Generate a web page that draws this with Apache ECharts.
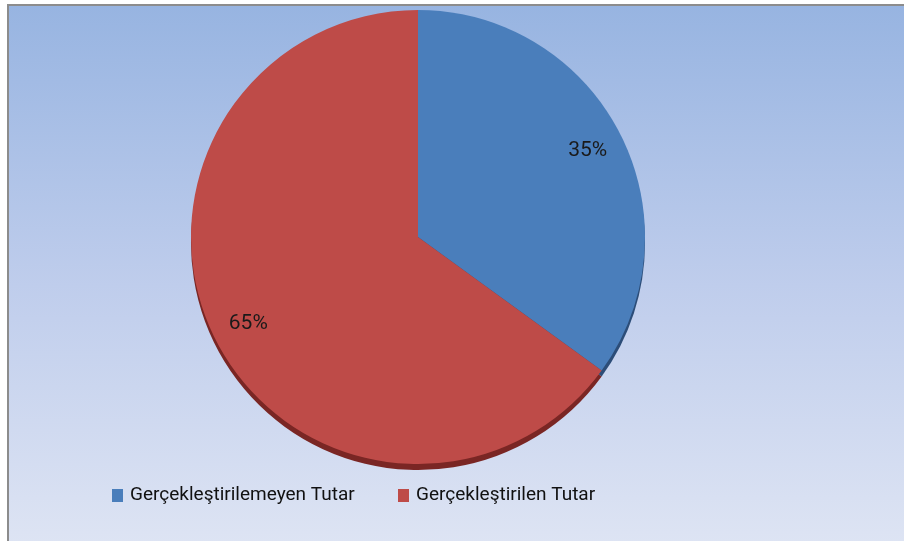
<!DOCTYPE html>
<html><head><meta charset="utf-8">
<script src="https://cdn.jsdelivr.net/npm/echarts@6/dist/echarts.min.js"></script>
<style>html,body{margin:0;padding:0;background:#fff}#c{width:904px;height:541px}</style>
</head><body><div id="c"></div>
<script>
const categories = ['Gerçekleştirilemeyen Tutar', 'Gerçekleştirilen Tutar'];
const values = [35, 65];
const faceColors = ['#4A7EBB', '#BE4B48'];
const edgeColors = ['#2C4D78', '#7A2624'];
const FONT = 'Roboto';

const chart = echarts.init(document.getElementById('c'));
const data = categories.map((n, i) => ({ name: n, value: values[i] }));
const legendBase = {
  top: 481, itemWidth: 11, itemHeight: 13, itemGap: 0, icon: 'rect',
  textStyle: { fontFamily: FONT, fontSize: 19, color: '#111', padding: [0, 0, 0, 2] }
};
chart.setOption({
  animation: false,
  graphic: [{
    type: 'rect', z: -10, silent: true,
    shape: { x: 8, y: 5, width: 910, height: 560 },
    style: {
      fill: new echarts.graphic.LinearGradient(0, 0, 0, 1, [
        { offset: 0, color: '#97B4E1' },
        { offset: 0.5, color: '#BFCDEC' },
        { offset: 1, color: '#E0E6F4' }
      ]),
      stroke: '#8C8C8C', lineWidth: 2
    }
  }],
  legend: [
    Object.assign({ left: 107, data: [categories[0]] }, legendBase),
    Object.assign({ left: 393, data: [categories[1]] }, legendBase)
  ],
  series: [
    {
      type: 'pie', silent: true, z: 1,
      center: [418, 243], radius: [0, 227],
      label: { show: false }, labelLine: { show: false },
      itemStyle: { color: p => edgeColors[p.dataIndex] },
      data: data.map(d => ({ name: d.name + ' ', value: d.value }))
    },
    {
      type: 'pie', silent: true, z: 2,
      center: [418, 237], radius: [0, 227],
      label: { show: false }, labelLine: { show: false },
      itemStyle: { color: p => faceColors[p.dataIndex] },
      data: data
    },
    {
      type: 'pie', silent: true, z: 3,
      center: [418, 237], radius: [148, 227],
      itemStyle: { color: 'rgba(0,0,0,0)' },
      labelLine: { show: false },
      label: {
        show: true, position: 'inside', formatter: '{d}%',
        fontFamily: FONT, fontSize: 21,
        color: '#1a1a1a'
      },
      data: data.map(d => ({ name: d.name + '  ', value: d.value }))
    }
  ]
});
</script></body></html>
